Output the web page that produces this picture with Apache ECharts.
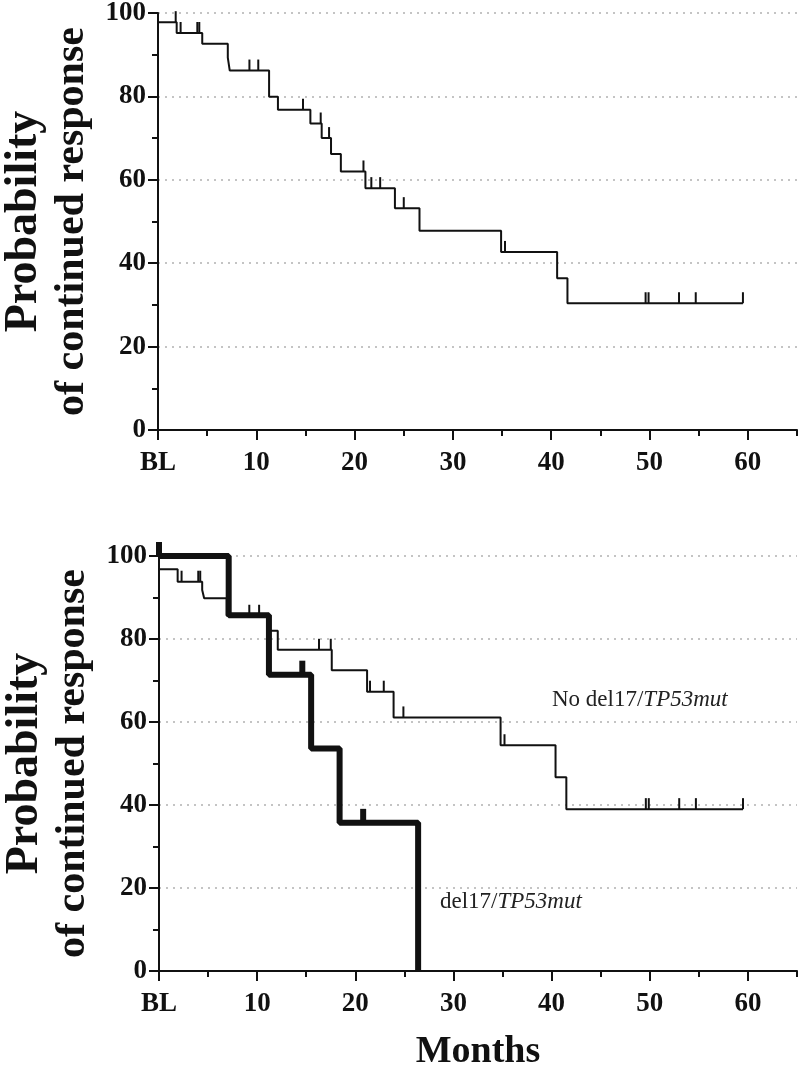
<!DOCTYPE html>
<html>
<head>
<meta charset="utf-8">
<script src="https://cdn.jsdelivr.net/npm/echarts@6/dist/echarts.min.js"></script>
<style>
html, body { margin: 0; padding: 0; background: #fff; }
#chart { width: 800px; height: 1069px; }
</style>
</head>
<body>
<div id="chart"></div>
<script>
// x ticks / labels (BL = baseline)
var xLabelValues = [0, 10, 20, 30, 40, 50, 60];

// top panel: all patients, KM steps [month, %]
var allSteps = [[0, 97.8], [1.9, 95.2], [4.5, 92.6], [7.1, 89.3], [7.3, 86.2], [11.3, 79.9], [12.2, 76.8],
    [15.5, 73.5], [16.65, 70.0], [17.6, 66.2], [18.6, 62.0], [21.1, 58.0], [24.1, 53.2], [26.6, 47.8],
    [34.9, 42.7], [40.6, 36.4], [41.65, 30.4], [59.5, 30.4]];
var allCensor = [[1.8, 97.8], [2.3, 95.2], [4.0, 95.2], [4.2, 95.2], [9.3, 86.2], [10.2, 86.2], [14.75, 76.8],
    [16.55, 73.5], [17.4, 70.0], [20.9, 62.0], [21.7, 58.0], [22.6, 58.0], [25.0, 53.2], [35.3, 42.7],
    [49.6, 30.4], [49.9, 30.4], [53.0, 30.4], [54.7, 30.4], [59.5, 30.4]];

// bottom panel: no del17/TP53mut (thin)
var noDelSteps = [[0, 96.8], [1.9, 93.8], [4.4, 91.8], [4.6, 89.8], [6.9, 85.6], [11.3, 82.0], [12.1, 77.4],
    [17.6, 72.5], [21.2, 67.3], [23.9, 61.1], [34.8, 54.4], [40.4, 46.7], [41.5, 39.0], [59.5, 39.0]];
var noDelCensor = [[2.3, 93.8], [4.0, 93.8], [4.2, 93.8], [9.2, 85.6], [10.2, 85.6], [16.3, 77.4], [17.5, 77.4],
    [21.5, 67.3], [22.9, 67.3], [24.9, 61.1], [35.2, 54.4], [49.6, 39.0], [49.9, 39.0], [53.0, 39.0],
    [54.7, 39.0], [59.5, 39.0]];

// bottom panel: del17/TP53mut (thick)
var delSteps = [[0, 100], [7.1, 85.7], [11.2, 71.4], [15.5, 53.6], [18.4, 35.7], [26.4, 0]];
var delCensor = [[0, 100], [14.6, 71.4], [20.8, 35.7]];

var serif = '"Liberation Serif", "DejaVu Serif", serif';
var ink = '#111';

function xAxisMain(g, withName) {
    var ax = {
        type: 'value', gridIndex: g, position: 'bottom', min: 0, max: 65, interval: 10,
        axisLine: { show: true, onZero: false, lineStyle: { color: ink, width: 2 } },
        axisTick: { show: true, length: 10, customValues: xLabelValues, lineStyle: { color: ink, width: 2 } },
        axisLabel: {
            customValues: xLabelValues, margin: 20, color: ink,
            fontFamily: serif, fontSize: 27, fontWeight: 'bold',
            formatter: function (v) { return v === 0 ? 'BL' : String(v); }
        },
        splitLine: { show: false }
    };
    if (withName) {
        ax.name = 'Months';
        ax.nameLocation = 'middle';
        ax.nameGap = 62;
        ax.nameTextStyle = { fontFamily: serif, fontSize: 38, fontWeight: 'bold', color: ink };
    }
    return ax;
}

function xAxisMinor(g) {
    return {
        type: 'value', gridIndex: g, position: 'bottom', min: 0, max: 65, interval: 5,
        axisLine: { show: false, onZero: false },
        axisTick: { show: true, length: 6, lineStyle: { color: ink, width: 2 } },
        axisLabel: { show: false },
        splitLine: { show: false }
    };
}

function yAxis(g) {
    return {
        type: 'value', gridIndex: g, min: 0, max: 100, interval: 20,
        axisLine: { show: true, lineStyle: { color: ink, width: 2 } },
        axisTick: { show: true, length: 10, lineStyle: { color: ink, width: 2 } },
        minorTick: { show: true, splitNumber: 2, length: 6, lineStyle: { color: ink, width: 2 } },
        axisLabel: { margin: 12, color: ink, fontFamily: serif, fontSize: 27, fontWeight: 'bold' },
        splitLine: { show: true, lineStyle: { color: '#c4c4c4', width: 2, type: [2, 5] } },
        name: '{p|Probability}\n{o|of continued response}',
        nameLocation: 'middle', nameRotate: 90, nameGap: 62,
        nameTextStyle: {
            color: ink,
            rich: {
                p: { fontFamily: serif, fontSize: 46, fontWeight: 'bold', lineHeight: 48, color: ink },
                o: { fontFamily: serif, fontSize: 42, fontWeight: 'bold', lineHeight: 48, color: ink }
            }
        }
    };
}

function stepSeries(xi, yi, data, width) {
    return {
        type: 'line', xAxisIndex: xi, yAxisIndex: yi, data: data, step: 'end',
        symbol: 'none', clip: false, silent: true,
        lineStyle: { color: ink, width: width }
    };
}

function censorSeries(xi, yi, data, w, h) {
    return {
        type: 'scatter', xAxisIndex: xi, yAxisIndex: yi, data: data, clip: false, silent: true,
        symbol: 'rect', symbolSize: [w, h], symbolOffset: [0, -h / 2],
        itemStyle: { color: ink, opacity: 1 }
    };
}

var chart = echarts.init(document.getElementById('chart'), null, { renderer: 'canvas' });

var option = {
    animation: false,
    backgroundColor: '#fff',
    grid: [
        { left: 158, top: 13, width: 639, height: 417, outerBoundsMode: 'none' },
        { left: 159, top: 556, width: 638, height: 415, outerBoundsMode: 'none' }
    ],
    xAxis: [xAxisMain(0, false), xAxisMinor(0), xAxisMain(1, true), xAxisMinor(1)],
    yAxis: [yAxis(0), yAxis(1)],
    series: [
        stepSeries(0, 0, allSteps, 2),
        censorSeries(0, 0, allCensor, 2, 11),
        stepSeries(2, 1, noDelSteps, 2),
        censorSeries(2, 1, noDelCensor, 2, 11),
        stepSeries(2, 1, delSteps, 6),
        censorSeries(2, 1, delCensor, 6, 14)
    ],
    graphic: [
        {
            type: 'text', left: 552, top: 688,
            style: {
                text: '{a|No del17/}{b|TP53mut}',
                rich: {
                    a: { fontFamily: serif, fontSize: 23, fill: '#222' },
                    b: { fontFamily: serif, fontSize: 23, fontStyle: 'italic', fill: '#222' }
                }
            }
        },
        {
            type: 'text', left: 440, top: 890,
            style: {
                text: '{a|del17/}{b|TP53mut}',
                rich: {
                    a: { fontFamily: serif, fontSize: 23, fill: '#222' },
                    b: { fontFamily: serif, fontSize: 23, fontStyle: 'italic', fill: '#222' }
                }
            }
        }
    ]
};

chart.setOption(option);
</script>
</body>
</html>
